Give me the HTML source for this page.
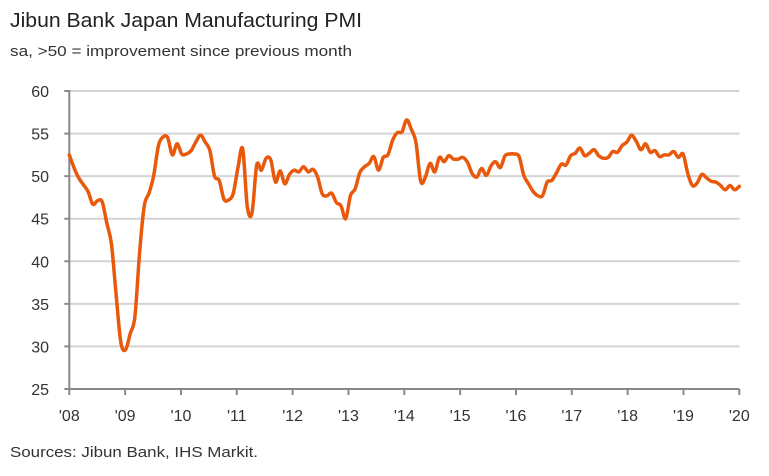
<!DOCTYPE html>
<html><head><meta charset="utf-8"><style>
body{margin:0;background:#fff;font-family:"Liberation Sans",sans-serif;}
svg text{font-family:"Liberation Sans",sans-serif;}
</style></head><body>
<svg id="c" width="769" height="471">
<text x="10" y="27" font-size="20" fill="#222" textLength="352" lengthAdjust="spacingAndGlyphs">Jibun Bank Japan Manufacturing PMI</text>
<text x="10" y="56" font-size="15" fill="#333" textLength="342" lengthAdjust="spacingAndGlyphs">sa, &gt;50 = improvement since previous month</text>
<text x="10" y="457" font-size="15" fill="#333" textLength="248" lengthAdjust="spacingAndGlyphs">Sources: Jibun Bank, IHS Markit.</text>
<g id="grid"></g><g id="axes"></g><g id="plot"></g>
</svg>
<script>
const yTicks=[25,30,35,40,45,50,55,60];
const xTickLabels=["'08","'09","'10","'11","'12","'13","'14","'15","'16","'17","'18","'19","'20"];
const pmi=[
52.5,51.0,49.8,49.0,48.2,46.7,47.1,47.0,44.5,42.0,36.0,30.5,
29.6,31.5,33.5,41.0,46.5,48.0,50.0,53.5,54.6,54.5,52.5,53.8,
52.6,52.6,53.0,54.0,54.8,54.0,53.0,50.0,49.5,47.3,47.2,48.0,
51.0,53.2,46.4,45.7,51.3,50.7,52.1,51.9,49.3,50.6,49.1,50.2,
50.7,50.5,51.1,50.5,50.8,49.9,47.9,47.7,48.0,46.9,46.5,45.0,
47.7,48.5,50.4,51.1,51.5,52.3,50.7,52.2,52.5,54.2,55.1,55.2,
56.6,55.5,53.9,49.4,49.9,51.5,50.5,52.2,51.7,52.4,52.0,52.0,
52.2,51.6,50.3,49.9,50.9,50.1,51.2,51.7,51.0,52.4,52.6,52.6,
52.3,50.1,49.1,48.2,47.7,47.7,49.3,49.5,50.4,51.4,51.3,52.4,
52.7,53.3,52.4,52.7,53.1,52.4,52.1,52.2,52.9,52.8,53.6,54.0,
54.8,54.1,53.1,53.8,52.8,53.0,52.3,52.5,52.5,52.9,52.2,52.6,
50.3,48.9,49.2,50.2,49.8,49.4,49.3,48.9,48.4,48.9,48.4,48.8];
const X0=69.3,X1=739.3,Y0=389,Y1=91;
const y=v=>Y0-(v-25)/35*(Y0-Y1);
const xm=i=>X0+i*(X1-X0)/(pmi.length-1);
const xt=i=>X0+i*(X1-X0)/(xTickLabels.length-1);
const NS="http://www.w3.org/2000/svg";
function mk(t,a,p){const e=document.createElementNS(NS,t);for(const k in a)e.setAttribute(k,a[k]);document.getElementById(p).appendChild(e);return e;}
yTicks.forEach(v=>{
 if(v>25){const g=mk('line',{x1:X0,x2:X1,y1:y(v),y2:y(v),stroke:'#d4d4d4','stroke-width':2},'grid');
 
 }
 const tk=mk('line',{x1:X0-5,x2:X0,y1:y(v),y2:y(v),stroke:'#888','stroke-width':2},'axes');
 
 
 const t=mk('text',{x:49,y:y(v)+6,'font-size':16,fill:'#333','text-anchor':'end'},'axes');
 t.textContent=v;
 
 
});
const ax=mk('line',{x1:X0,x2:X0,y1:Y1-1,y2:Y0,stroke:'#888','stroke-width':2},'axes');


const bx=mk('line',{x1:X0,x2:X1,y1:Y0,y2:Y0,stroke:'#888','stroke-width':2},'axes');


xTickLabels.forEach((l,i)=>{
 const tk=mk('line',{x1:xt(i),x2:xt(i),y1:Y0,y2:Y0+6,stroke:'#888','stroke-width':2},'axes');
 
 
 const t=mk('text',{x:xt(i),y:Y0+32,'font-size':16,fill:'#333','text-anchor':'middle'},'axes');
 t.textContent=l;
 
 
});
const pts=pmi.map((v,i)=>[xm(i),y(v)]);
let d='M'+pts[0][0].toFixed(1)+','+pts[0][1].toFixed(1);
for(let i=0;i<pts.length-1;i++){
 const p0=pts[Math.max(0,i-1)],p1=pts[i],p2=pts[i+1],p3=pts[Math.min(pts.length-1,i+2)];
 const c1=[p1[0]+(p2[0]-p0[0])/6,p1[1]+(p2[1]-p0[1])/6];
 const c2=[p2[0]-(p3[0]-p1[0])/6,p2[1]-(p3[1]-p1[1])/6];
 d+='C'+c1[0].toFixed(1)+','+c1[1].toFixed(1)+' '+c2[0].toFixed(1)+','+c2[1].toFixed(1)+' '+p2[0].toFixed(1)+','+p2[1].toFixed(1);
}
const p=mk('path',{d:d,fill:'none',stroke:'#e8590c','stroke-width':3.5,'stroke-linejoin':'round','stroke-linecap':'round'},'plot');


</script>
</body></html>
